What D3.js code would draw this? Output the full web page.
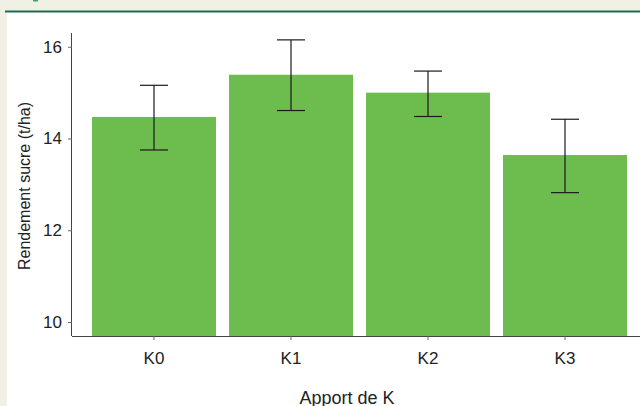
<!DOCTYPE html>
<html>
<head>
<meta charset="utf-8">
<script src="https://cdn.jsdelivr.net/npm/d3@7"></script>
<style>
  body { margin: 0; background: #f0f1e4; }
  svg { display: block; font-family: "Liberation Sans", Arial, sans-serif; }
</style>
</head>
<body>
<svg id="chart"></svg>
<script>
var categories = ["K0", "K1", "K2", "K3"];
var rendement = [14.47, 15.39, 15.00, 13.64];
var errHaut = [15.16, 16.15, 15.47, 14.42];
var errBas = [13.75, 14.61, 14.48, 12.82];
var yTicks = [10, 12, 14, 16];

var screen = {width: 640, height: 406};

var svg = d3.select("#chart")
    .attr("width", screen.width)
    .attr("height", screen.height);

// cadre de la page
svg.append("rect")
    .attr("x", 0).attr("y", 0)
    .attr("width", screen.width).attr("height", screen.height)
    .attr("fill", "#f0f1e4");
svg.append("rect")
    .attr("x", 7).attr("y", 12)
    .attr("width", screen.width - 7).attr("height", screen.height - 12)
    .attr("fill", "#ffffff");
svg.append("rect")
    .attr("x", 5).attr("y", 10.5)
    .attr("width", screen.width - 5).attr("height", 2)
    .attr("fill", "#1e6b4f");
svg.append("rect")
    .attr("x", 33).attr("y", 0)
    .attr("width", 5).attr("height", 1.5)
    .attr("fill", "#3aa37a");

var xScale = d3.scaleBand()
    .domain(categories)
    .range([72, 647])
    .paddingInner(0.095)
    .paddingOuter(0.146);

var yScale = d3.scaleLinear()
    .domain([9.695, 16.3])
    .range([336, 33]);

var data = categories.map(function(c, i) {
    return {cat: c, val: rendement[i], hi: errHaut[i], lo: errBas[i]};
});

// barres
svg.append("g")
    .selectAll("rect")
    .data(data)
    .enter()
    .append("rect")
    .attr("x", function(d) { return xScale(d.cat); })
    .attr("y", function(d) { return yScale(d.val); })
    .attr("width", xScale.bandwidth())
    .attr("height", function(d) { return yScale.range()[0] - yScale(d.val); })
    .attr("fill", "#6dbd4e");

// barres d'erreur
var err = svg.append("g")
    .selectAll("g")
    .data(data)
    .enter()
    .append("g")
    .attr("stroke", "#1a1a1a")
    .attr("stroke-width", 1.2);
var cx = function(d) { return xScale(d.cat) + xScale.bandwidth() / 2; };
err.append("line")
    .attr("x1", cx).attr("x2", cx)
    .attr("y1", function(d) { return yScale(d.hi); })
    .attr("y2", function(d) { return yScale(d.lo); });
err.append("line")
    .attr("x1", function(d) { return cx(d) - 14; })
    .attr("x2", function(d) { return cx(d) + 14; })
    .attr("y1", function(d) { return yScale(d.hi); })
    .attr("y2", function(d) { return yScale(d.hi); });
err.append("line")
    .attr("x1", function(d) { return cx(d) - 14; })
    .attr("x2", function(d) { return cx(d) + 14; })
    .attr("y1", function(d) { return yScale(d.lo); })
    .attr("y2", function(d) { return yScale(d.lo); });

// axes
var xAxis = d3.axisBottom(xScale).tickSize(4).tickPadding(12);
var yAxis = d3.axisLeft(yScale).tickValues(yTicks).tickFormat(d3.format("d"))
    .tickSize(4).tickPadding(6);

var gx = svg.append("g")
    .attr("transform", "translate(0,336)")
    .call(xAxis);
gx.select(".domain").attr("d", "M72,0.5H640").attr("stroke", "#444");

var gy = svg.append("g")
    .attr("transform", "translate(72,0)")
    .call(yAxis);
gy.select(".domain").attr("d", "M-0.5,33V336").attr("stroke", "#444");

svg.selectAll(".tick line").attr("stroke", "#666");
svg.selectAll(".tick text")
    .attr("font-size", 17)
    .attr("font-family", "Liberation Sans, Arial, sans-serif")
    .attr("fill", "#222");

// titres
svg.append("text")
    .text("Apport de K")
    .attr("x", 347)
    .attr("y", 404)
    .attr("text-anchor", "middle")
    .attr("font-size", 18)
    .attr("fill", "#222");

svg.append("g")
    .attr("transform", "translate(30,186)")
    .append("text")
    .text("Rendement sucre (t/ha)")
    .attr("text-anchor", "middle")
    .attr("transform", "rotate(-90)")
    .attr("font-size", 16)
    .attr("fill", "#222");
</script>
</body>
</html>
